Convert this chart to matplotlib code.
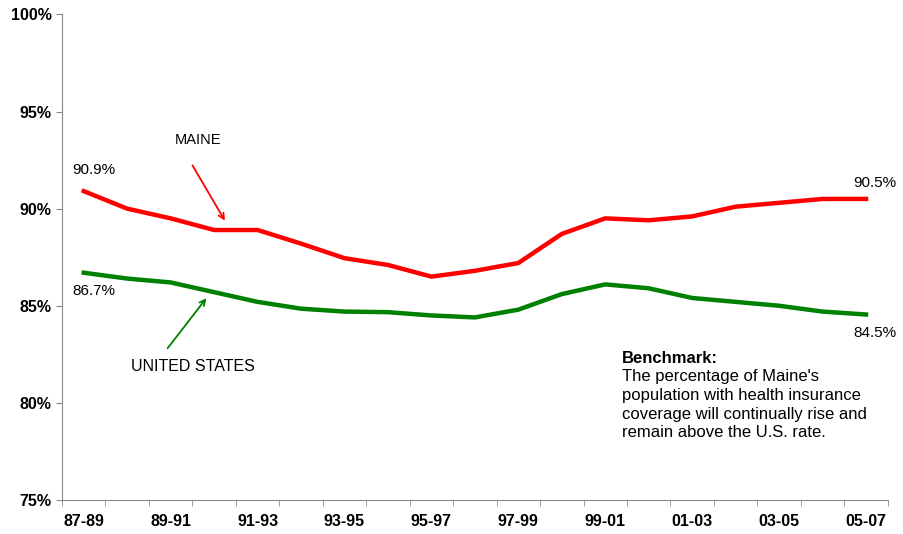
import matplotlib
matplotlib.use("Agg")
import matplotlib.pyplot as plt
import numpy as np

plt.rcParams['font.family'] = ['Liberation Sans', 'DejaVu Sans']

periods = ["87-89", "88-90", "89-91", "90-92", "91-93", "92-94", "93-95", "94-96",
           "95-97", "96-98", "97-99", "98-00", "99-01", "00-02", "01-03", "02-04",
           "03-05", "04-06", "05-07"]
maine = [90.9, 90.0, 89.5, 88.9, 88.9, 88.2, 87.45, 87.1, 86.5, 86.8, 87.2, 88.7,
         89.5, 89.4, 89.6, 90.1, 90.3, 90.5, 90.5]
us = [86.7, 86.4, 86.2, 85.7, 85.2, 84.85, 84.7, 84.67, 84.5, 84.4, 84.8, 85.6,
      86.1, 85.9, 85.4, 85.2, 85.0, 84.7, 84.55]
yticks = [75, 80, 85, 90, 95, 100]

fig = plt.figure(figsize=(9.04, 5.34), dpi=100)
ax = fig.add_axes([0.0686, 0.0637, 0.9134, 0.9093])

x = np.arange(len(periods))
ax.plot(x, maine, color="#ff0000", lw=3.2, solid_joinstyle="round")
ax.plot(x, us, color="#008000", lw=3.2, solid_joinstyle="round")

ax.set_xlim(-0.5, len(periods) - 0.5)
ax.set_ylim(75, 100)
ax.set_yticks(yticks)
ax.set_yticklabels([f"{v}%" for v in yticks], fontsize=11.5, fontweight="bold")
ax.set_xticks(x[::2])
ax.set_xticklabels(periods[::2], fontsize=11.5, fontweight="bold")
ax.set_xticks(np.arange(-0.5, len(periods)), minor=True)
ax.tick_params(axis="x", which="major", length=0, pad=10)
ax.tick_params(axis="x", which="minor", length=4, color="#888888", direction="out")
ax.tick_params(axis="y", length=4, color="#888888", direction="out")

for s in ["top", "right"]:
    ax.spines[s].set_visible(False)
for s in ["left", "bottom"]:
    ax.spines[s].set_color("#888888")

# value labels at the ends
ax.text(0.23, 91.99, f"{maine[0]:.1f}%", ha="center", va="center", fontsize=11)
ax.text(0.23, 85.77, f"{us[0]:.1f}%", ha="center", va="center", fontsize=11)
ax.text(18.2, 91.32, f"{maine[-1]:.1f}%", ha="center", va="center", fontsize=11)
ax.text(18.2, 83.6, f"{us[-1]:.1f}%", ha="center", va="center", fontsize=11)

# series labels with arrows
ax.annotate("", xy=(3.28, 89.26), xytext=(2.47, 92.35),
            arrowprops=dict(arrowstyle="->", color="#ff0000", lw=1.3))
ax.text(2.63, 93.53, "MAINE", ha="center", va="center", fontsize=10.5)
ax.annotate("", xy=(2.86, 85.5), xytext=(1.89, 82.7),
            arrowprops=dict(arrowstyle="->", color="#008000", lw=1.3))
ax.text(2.52, 81.86, "UNITED STATES", ha="center", va="center", fontsize=11.5)

# benchmark note
ax.text(12.38, 82.68, "Benchmark:", ha="left", va="top", fontsize=12, fontweight="bold")
ax.text(12.38, 81.72, "The percentage of Maine's\npopulation with health insurance\n"
        "coverage will continually rise and\nremain above the U.S. rate.",
        ha="left", va="top", fontsize=12, linespacing=1.3)

plt.savefig("out.png", dpi=100)
